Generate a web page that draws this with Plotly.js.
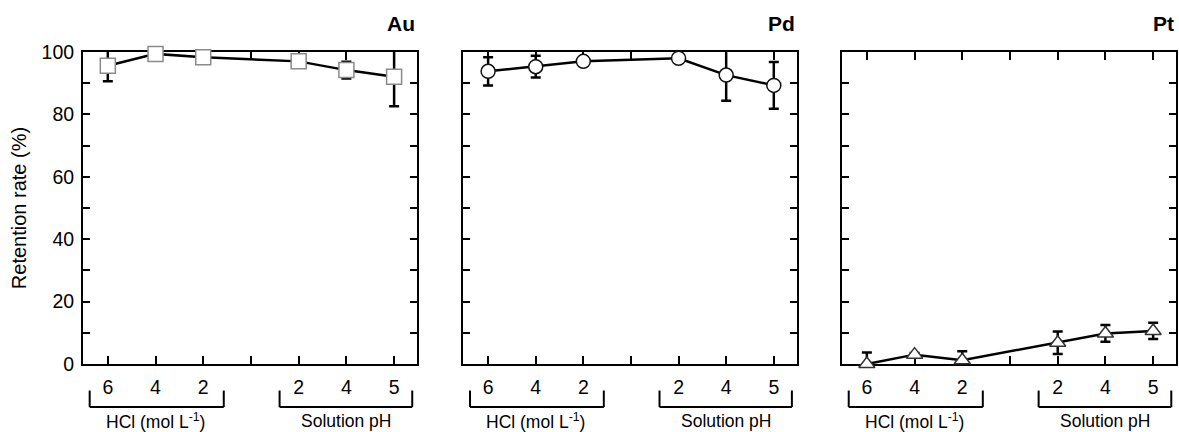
<!DOCTYPE html>
<html>
<head>
<meta charset="utf-8">
<script src="https://cdn.plot.ly/plotly-3.0.1.min.js"></script>
<style>html,body{margin:0;padding:0;background:#fff;}#chart{width:1179px;height:432px;}</style>
</head>
<body>
<div id="chart"></div>
<script>
// ---- data ----
const positions = [1, 2, 3, 5, 6, 7];
const tickLabels = ['6', '4', '2', '2', '4', '5'];
const metals = ['Au', 'Pd', 'Pt'];
const auValues = [95.6, 99.4, 98.3, 97.0, 94.2, 92.1];
const auErrors = [5.0, 0.5, 0.5, 0.8, 2.7, 9.5];
const pdValues = [93.8, 95.3, 97.0, 98.0, 92.6, 89.3];
const pdErrors = [4.5, 3.5, 0.5, 0.5, 8.2, 7.5];
const ptValues = [0.0, 3.0, 1.2, 6.8, 9.8, 10.6];
const ptErrors = [3.7, 0.5, 2.9, 3.6, 2.7, 2.6];
const groupLabels = ['HCl (mol L<sup>-1</sup>)', 'Solution pH'];
const yTickVals = [0, 20, 40, 60, 80, 100];
const yTickText = ['0', '20', '40', '60', '80', '100'];

const FONT = 'Arial, "Liberation Sans", sans-serif';
const symbols = ['square', 'circle', 'triangle-up'];
const markerSizes = [15, 14, 14];
const edgeColors = ['#8a8a8a', '#111111', '#333333'];
const series = [[auValues, auErrors], [pdValues, pdErrors], [ptValues, ptErrors]];

const traces = [];
series.forEach((s, i) => {
  const xa = i === 0 ? 'x' : 'x' + (i + 1);
  const ya = i === 0 ? 'y' : 'y' + (i + 1);
  // error bars first (drawn beneath the markers)
  traces.push({
    type: 'scatter', mode: 'markers', x: positions, y: s[0], xaxis: xa, yaxis: ya,
    marker: {size: 1, color: 'rgba(0,0,0,0)'},
    error_y: {type: 'data', array: s[1], visible: true, color: '#000', thickness: 2.5, width: 5},
    cliponaxis: false, showlegend: false, hoverinfo: 'skip'
  });
  traces.push({
    type: 'scatter', mode: 'lines+markers', x: positions, y: s[0], xaxis: xa, yaxis: ya,
    line: {color: '#000', width: 2.5},
    marker: {symbol: symbols[i], size: markerSizes[i], color: '#fff', line: {color: edgeColors[i], width: 1.5}},
    cliponaxis: false, showlegend: false, hoverinfo: 'x+y'
  });
});

const xDomains = [[0.0704, 0.3537], [0.3930, 0.6757], [0.7142, 0.9975]];
const yDomain = [0.1574, 0.8796];

const layout = {
  width: 1179, height: 432,
  margin: {l: 0, r: 0, t: 0, b: 0},
  paper_bgcolor: '#fff', plot_bgcolor: '#fff',
  font: {family: FONT, color: '#000', size: 18},
  showlegend: false,
  shapes: [], annotations: []
};

for (let i = 0; i < 3; i++) {
  const xa = i === 0 ? 'xaxis' : 'xaxis' + (i + 1);
  const ya = i === 0 ? 'yaxis' : 'yaxis' + (i + 1);
  const xr = i === 0 ? 'x' : 'x' + (i + 1);
  const yr = i === 0 ? 'y' : 'y' + (i + 1);
  layout[xa] = {
    domain: xDomains[i], anchor: yr, range: [0.48, 7.48],
    tickmode: 'array', tickvals: positions, ticktext: tickLabels,
    ticks: 'inside', ticklen: 8, tickwidth: 2, tickcolor: '#000',
    minor: {tickmode: 'linear', tick0: 0, dtick: 1, ticks: 'inside', ticklen: 8, tickwidth: 2, tickcolor: '#000', showgrid: false},
    showline: true, linecolor: '#000', linewidth: 2, mirror: 'ticks', layer: 'below traces',
    showgrid: false, zeroline: false, automargin: false,
    tickfont: {family: FONT, size: 19.5, color: '#000'}, ticklabelstandoff: 5
  };
  layout[ya] = {
    domain: yDomain, anchor: xr, range: [0, 100],
    tickmode: 'array', tickvals: yTickVals, ticktext: yTickText,
    showticklabels: i === 0,
    ticks: 'inside', ticklen: 7, tickwidth: 2, tickcolor: '#000',
    minor: {tickmode: 'linear', tick0: 0, dtick: 10, ticks: 'inside', ticklen: 7, tickwidth: 2, tickcolor: '#000', showgrid: false},
    showline: true, linecolor: '#000', linewidth: 2, mirror: 'ticks', layer: 'below traces',
    showgrid: false, zeroline: false, automargin: false,
    tickfont: {family: FONT, size: 19.5, color: '#000'}, ticklabelstandoff: 3
  };
  if (i === 0) {
    layout[ya].title = {text: 'Retention rate (%)', font: {family: FONT, size: 20, color: '#000'}, standoff: 10};
  }
  // metal label
  layout.annotations.push({
    text: '<b>' + metals[i] + '</b>', xref: xr + ' domain', yref: yr + ' domain',
    x: 1.0, y: 1.09, xanchor: 'right', yanchor: 'middle', showarrow: false,
    font: {family: FONT, size: 21, color: '#000'}
  });
  // brackets
  const brackets = [[0.62, 3.43, 2.0], [4.6, 7.38, 6.0]];
  brackets.forEach((b, k) => {
    const yTop = -0.085, yBot = -0.138;
    const base = {type: 'line', xref: xr, yref: yr + ' domain', line: {color: '#000', width: 2}};
    layout.shapes.push(Object.assign({}, base, {x0: b[0], x1: b[0], y0: yTop, y1: yBot}));
    layout.shapes.push(Object.assign({}, base, {x0: b[0], x1: b[1], y0: yBot, y1: yBot}));
    layout.shapes.push(Object.assign({}, base, {x0: b[1], x1: b[1], y0: yTop, y1: yBot}));
    layout.annotations.push({
      text: groupLabels[k], xref: xr, yref: yr + ' domain', x: b[2], y: -0.182,
      xanchor: 'center', yanchor: 'middle', showarrow: false,
      font: {family: FONT, size: 17.5, color: '#000'}
    });
  });
}

Plotly.newPlot('chart', traces, layout, {displayModeBar: false, staticPlot: true});
</script>
</body>
</html>
